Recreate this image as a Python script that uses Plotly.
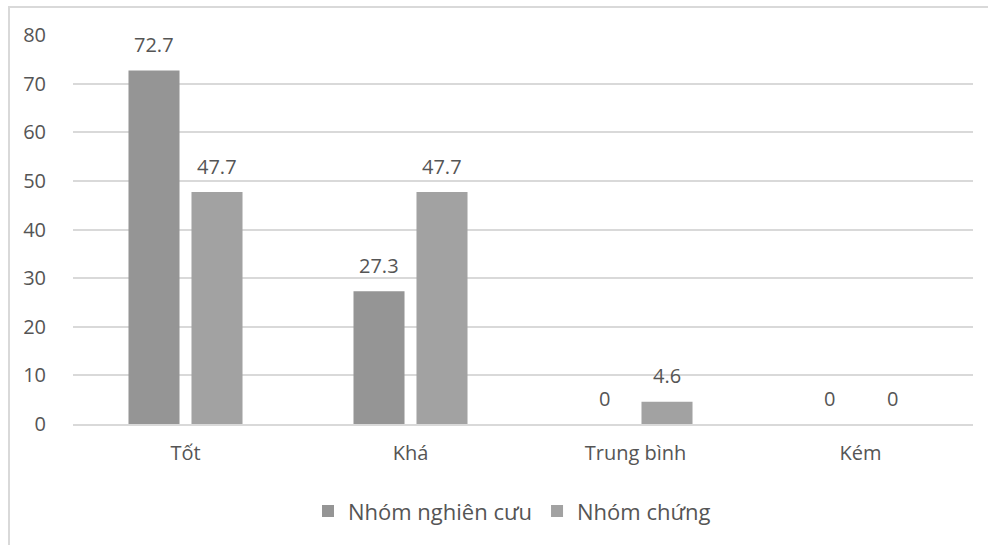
import plotly.graph_objects as go

categories = ["Tốt", "Khá", "Trung bình", "Kém"]
series_names = ["Nhóm nghiên cưu", "Nhóm chứng"]
nhom_nghien_cuu = [72.7, 27.3, 0, 0]
nhom_chung = [47.7, 47.7, 4.6, 0]
y_ticks = [0, 10, 20, 30, 40, 50, 60, 70, 80]

colors = ["#959595", "#a2a2a2"]
text_color = "#555555"
grid_color = "#d9d9d9"
font_family = "Open Sans"

W, H = 988, 545
ml, mr, mt, mb = 73, 15, 35, 121
plot_w = W - ml - mr
plot_h = H - mt - mb

fig = go.Figure()
for name, vals, col in zip(series_names, [nhom_nghien_cuu, nhom_chung], colors):
    fig.add_trace(go.Bar(x=categories, y=vals, name=name, marker=dict(color=col, line=dict(width=0))))

# value labels above each bar, shifted to the bar's slot within its group
cat_w = plot_w / len(categories)
bargap = 0.44
slot = cat_w * (1 - bargap) / 2
for i, vals in enumerate([nhom_nghien_cuu, nhom_chung]):
    shift = (i - 0.5) * slot
    for c, v in zip(categories, vals):
        fig.add_annotation(x=c, y=v, xref="x", yref="y", text=f"{v:g}", showarrow=False,
                           xshift=shift, yshift=26, yanchor="middle",
                           font=dict(family=font_family, size=20, color=text_color))

# outer chart border
fig.add_shape(type="rect", xref="paper", yref="paper",
              x0=(9 - ml) / plot_w, x1=(W + 5 - ml) / plot_w,
              y0=-(H + 5 - mt - plot_h) / plot_h, y1=1 + (mt - 7) / plot_h,
              line=dict(color=grid_color, width=2), fillcolor="rgba(0,0,0,0)", layer="below")

fig.update_layout(
    width=W, height=H,
    margin=dict(l=ml, r=mr, t=mt, b=mb),
    paper_bgcolor="white", plot_bgcolor="white",
    barmode="group", bargap=bargap, bargroupgap=0.19,
    font=dict(family=font_family, color=text_color, size=20),
    showlegend=True,
    legend=dict(orientation="h", x=(512 - ml) / plot_w, xanchor="center", y=-0.17, yanchor="top",
                font=dict(family=font_family, size=22, color=text_color),
                itemwidth=30),
    xaxis=dict(showgrid=False, showline=True, linecolor=grid_color, linewidth=1.5,
               ticks="", tickfont=dict(size=20, color=text_color), ticklabelstandoff=10),
    yaxis=dict(range=[0, 80], tickvals=y_ticks, showgrid=True, gridcolor=grid_color, gridwidth=1.5,
               zeroline=False, showline=False, ticks="",
               tickfont=dict(size=20, color=text_color), ticklabelstandoff=26),
)

fig.write_html("out.html")
